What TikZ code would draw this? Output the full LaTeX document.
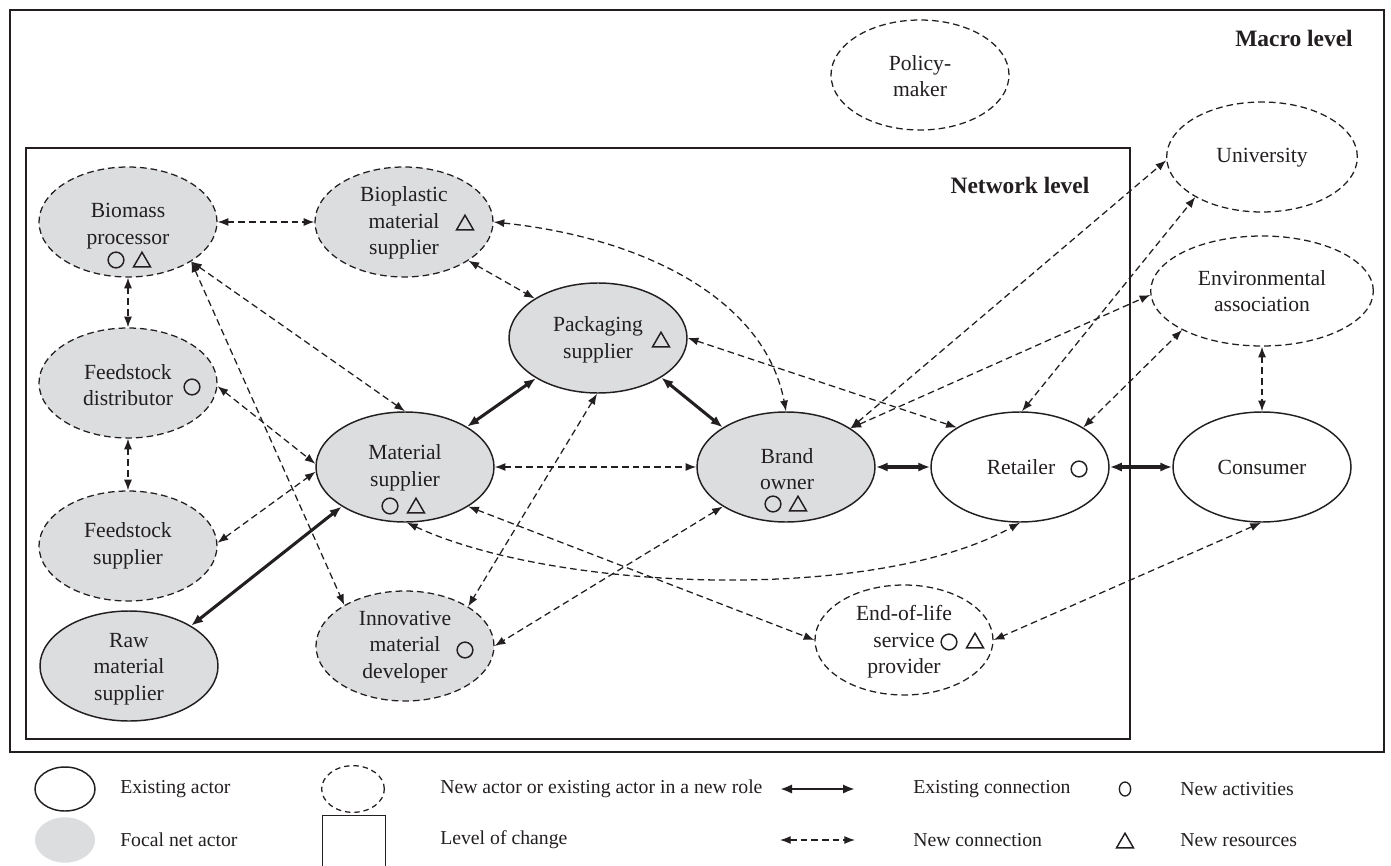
\documentclass[tikz,border=0pt]{standalone}
\usepackage{fontspec}
\setmainfont{Liberation Serif}
\usetikzlibrary{shapes.geometric,arrows.meta}
\definecolor{ink}{RGB}{35,31,32}
\definecolor{focalgrey}{RGB}{220,221,223}
\begin{document}
\begin{tikzpicture}[x=0.75pt,y=-0.75pt,
  every node/.style={font=\fontsize{16.2}{20}\selectfont, text=ink, inner sep=0pt},
  act/.style={ellipse, draw=ink, line width=1.1pt, minimum width=133.5pt, minimum height=82.5pt, inner sep=0pt},
  newact/.style={act, line width=0.95pt, dash pattern=on 5pt off 3pt},
  foc/.style={fill=focalgrey},
  lab/.style={align=center},
  leg/.style={anchor=west, font=\fontsize{14.8}{18}\selectfont},
  symc/.style={circle, draw=ink, line width=1.1pt, minimum size=11.8pt},
  symt/.style={regular polygon, regular polygon sides=3, draw=ink, line width=1.1pt, minimum size=14.7pt},
  oldc/.style={{Latex[length=9pt,width=7pt]}-{Latex[length=9pt,width=7pt]}, draw=ink, line width=2.3pt},
  newc/.style={{Latex[length=8pt,width=6pt]}-{Latex[length=8pt,width=6pt]}, draw=ink, line width=0.95pt, dash pattern=on 5pt off 3pt},
  boxline/.style={draw=ink, line width=1.9pt},
  ttl/.style={font=\bfseries\fontsize{17.6}{21}\selectfont},
]
\useasboundingbox (0,0) rectangle (1391,866);
\fill[white] (0,0) rectangle (1391,866);

% level boxes
\draw[boxline] (10,10) rectangle (1384,752);
\draw[boxline] (26,148) rectangle (1130,739);
\node[ttl, anchor=east] (macro) at (1353,38) {Macro level};
\node[ttl] (netlev) at (1020,185) {Network level};

% actors
\node[newact, foc] (bio) at (128,222) {};
\node[newact, foc] (bpl) at (404,222) {};
\node[newact] (pol) at (920,75) {};
\node[newact, minimum width=143pt] (uni) at (1262,157) {};
\node[newact, minimum width=167pt] (env) at (1262,291) {};
\node[newact, foc] (fdi) at (128,383) {};
\node[newact, foc] (fsu) at (128,546) {};
\node[act, foc] (raw) at (129,666) {};
\node[act, foc] (mat) at (405,467) {};
\node[act, foc] (pac) at (598,338) {};
\node[act, foc] (bra) at (786,467) {};
\node[act] (ret) at (1020,467) {};
\node[act] (con) at (1262,467) {};
\node[newact, foc] (inn) at (405,646) {};
\node[newact] (eol) at (904,640) {};

% labels
\node[lab] (biot) at (128,226) {Biomass\\processor};
\node[symc] (bioc) at (116,260) {};
\node[symt] (biotr) at (142,262) {};
\node[lab] (bplt) at (404,223) {Bioplastic\\material\\supplier};
\node[symt] (bpltr) at (465,225) {};
\node[lab] (polt) at (920,76) {Policy-\\maker};
\node (unit) at (1262,158) {University};
\node[lab] (envt) at (1262,291) {Environmental\\association};
\node[lab] (fdit) at (128,385) {Feedstock\\distributor};
\node[symc] (fdic) at (192,387) {};
\node[lab] (fsut) at (128,546) {Feedstock\\supplier};
\node[lab] (rawt) at (129,669) {Raw\\material\\supplier};
\node[lab] (matt) at (405,468) {Material\\supplier};
\node[symc] (matc) at (390,506) {};
\node[symt] (mattr) at (416,508) {};
\node[lab] (pact) at (598,340) {Packaging\\supplier};
\node[symt] (pactr) at (661,342) {};
\node[lab] (brat) at (787,469) {Brand\\owner};
\node[symc] (brac) at (773,504) {};
\node[symt] (bratr) at (798,506) {};
\node (rett) at (1021,467) {Retailer};
\node[symc] (retc) at (1079,469) {};
\node (cont) at (1262,467) {Consumer};
\node[lab] (innt) at (405,647) {Innovative\\material\\developer};
\node[symc] (innc) at (465,650) {};
\node[lab] (eolt) at (904,642) {End-of-life\\service\\provider};
\node[symc] (eolc) at (949,642) {};
\node[symt] (eoltr) at (975,643) {};

% connections
\draw[newc] (bio.east) -- (bpl.west);
\draw[newc] (bio.south) -- (fdi.north);
\draw[newc] (fdi.south) -- (fsu.north);
\draw[newc] (bio.-32) -- (mat.north);
\draw[newc] (bio.-32) -- (inn.146);
\draw[newc] (fdi.-2) -- (mat.178);
\draw[newc] (fsu.2) -- (mat.183);
\draw[oldc] (raw.33) -- (mat.212);
\draw[oldc] (mat.33) -- (pac.213);
\draw[oldc] (pac.-32) -- (bra.148);
\draw[newc] (mat.east) -- (bra.west);
\draw[oldc] (bra.east) -- (ret.west);
\draw[oldc] (ret.east) -- (con.west);
\draw[newc] (bpl.-31) -- (pac.148);
\draw[newc] (bpl.east) .. controls (645,238) and (765,300) .. (bra.north);
\draw[newc] (pac.east) -- (ret.148);
\draw[newc] (pac.-91) -- (inn.32);
\draw[newc] (bra.212) -- (inn.east);
\draw[newc] (mat.-32) -- (eol.west);
\draw[newc] (mat.-88) .. controls (554,591) and (873,604) .. (ret.-90);
\draw[newc] (bra.31) -- (uni.182);
\draw[newc] (bra.31) -- (env.182);
\draw[newc] (ret.88) -- (uni.211);
\draw[newc] (ret.32) -- (env.206);
\draw[newc] (env.south) -- (con.north);
\draw[newc] (con.-91) -- (eol.east);

% legend
\node[ellipse, draw=ink, line width=1.1pt, minimum width=45pt, minimum height=33pt] (lgold) at (65,789) {};
\node[leg] (lgoldt) at (120,789) {Existing actor};
\node[ellipse, fill=focalgrey, minimum width=45pt, minimum height=34pt] (lgfoc) at (65,840) {};
\node[leg] (lgfoct) at (120,840) {Focal net actor};
\node[ellipse, draw=ink, line width=0.95pt, dash pattern=on 4pt off 3pt, minimum width=47pt, minimum height=35pt] (lgnew) at (353,789) {};
\node[leg] (lgnewt) at (440,789) {New actor or existing actor in a new role};
\node[draw=ink, line width=1.1pt, minimum width=47pt, minimum height=45pt, anchor=north] (lgbox) at (354,815) {};
\node[leg] (lgboxt) at (440,840) {Level of change};
\coordinate (la1) at (780,789);
\coordinate (la2) at (855,789);
\draw[oldc, line width=1.8pt] (la1) -- (la2);
\node[leg] (lgoldc) at (913,789) {Existing connection};
\coordinate (lb1) at (780,840);
\coordinate (lb2) at (855,840);
\draw[newc] (lb1) -- (lb2);
\node[leg] (lgnewc) at (913,840) {New connection};
\node[ellipse, draw=ink, line width=1pt, minimum width=8.5pt, minimum height=10.5pt] (lgact) at (1125,789) {};
\node[leg] (lgactt) at (1180,789) {New activities};
\node[symt] (lgres) at (1125,843) {};
\node[leg] (lgrest) at (1180,840) {New resources};
\end{tikzpicture}
\end{document}
